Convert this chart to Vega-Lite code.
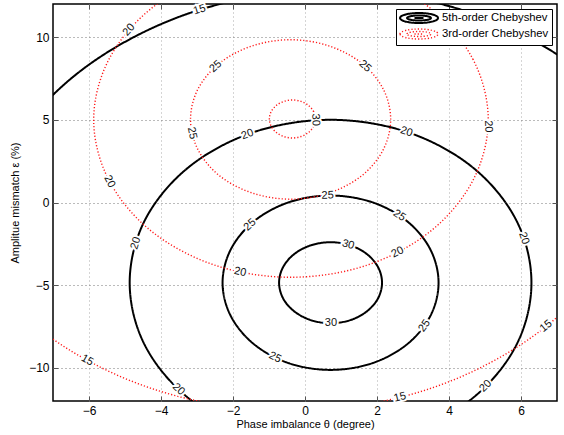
{
  "$schema": "https://vega.github.io/schema/vega-lite/v6.json",
  "width": 504,
  "height": 397,
  "autosize": {"type": "none"},
  "padding": {"left": 53, "top": 4, "right": 7, "bottom": 34},
  "background": "white",
  "config": {
    "view": {"stroke": "#000", "strokeWidth": 1.5},
    "font": "Liberation Sans",
    "axis": {"labelFont": "Liberation Sans", "titleFont": "Liberation Sans", "labelColor": "#000", "titleColor": "#000", "labelFontSize": 12, "titleFontSize": 11, "titleFontWeight": "normal", "domain": false}
  },
  "datasets": {
    "pts": [
      {"s":"5th-order Chebyshev","c":"B30","i":0,"x":2.14,"y":-4.85},
      {"s":"5th-order Chebyshev","c":"B30","i":1,"x":2.03,"y":-3.91},
      {"s":"5th-order Chebyshev","c":"B30","i":2,"x":1.72,"y":-3.12},
      {"s":"5th-order Chebyshev","c":"B30","i":3,"x":1.26,"y":-2.59},
      {"s":"5th-order Chebyshev","c":"B30","i":4,"x":0.71,"y":-2.40},
      {"s":"5th-order Chebyshev","c":"B30","i":5,"x":0.16,"y":-2.59},
      {"s":"5th-order Chebyshev","c":"B30","i":6,"x":-0.30,"y":-3.12},
      {"s":"5th-order Chebyshev","c":"B30","i":7,"x":-0.61,"y":-3.91},
      {"s":"5th-order Chebyshev","c":"B30","i":8,"x":-0.72,"y":-4.85},
      {"s":"5th-order Chebyshev","c":"B30","i":9,"x":-0.61,"y":-5.79},
      {"s":"5th-order Chebyshev","c":"B30","i":10,"x":-0.30,"y":-6.58},
      {"s":"5th-order Chebyshev","c":"B30","i":11,"x":0.16,"y":-7.11},
      {"s":"5th-order Chebyshev","c":"B30","i":12,"x":0.71,"y":-7.30},
      {"s":"5th-order Chebyshev","c":"B30","i":13,"x":1.26,"y":-7.11},
      {"s":"5th-order Chebyshev","c":"B30","i":14,"x":1.72,"y":-6.58},
      {"s":"5th-order Chebyshev","c":"B30","i":15,"x":2.03,"y":-5.79},
      {"s":"5th-order Chebyshev","c":"B25","i":0,"x":3.71,"y":-4.85},
      {"s":"5th-order Chebyshev","c":"B25","i":1,"x":3.48,"y":-2.83},
      {"s":"5th-order Chebyshev","c":"B25","i":2,"x":2.83,"y":-1.12},
      {"s":"5th-order Chebyshev","c":"B25","i":3,"x":1.86,"y":0.02},
      {"s":"5th-order Chebyshev","c":"B25","i":4,"x":0.71,"y":0.42},
      {"s":"5th-order Chebyshev","c":"B25","i":5,"x":-0.44,"y":0.02},
      {"s":"5th-order Chebyshev","c":"B25","i":6,"x":-1.41,"y":-1.12},
      {"s":"5th-order Chebyshev","c":"B25","i":7,"x":-2.06,"y":-2.83},
      {"s":"5th-order Chebyshev","c":"B25","i":8,"x":-2.29,"y":-4.85},
      {"s":"5th-order Chebyshev","c":"B25","i":9,"x":-2.06,"y":-6.87},
      {"s":"5th-order Chebyshev","c":"B25","i":10,"x":-1.41,"y":-8.58},
      {"s":"5th-order Chebyshev","c":"B25","i":11,"x":-0.44,"y":-9.72},
      {"s":"5th-order Chebyshev","c":"B25","i":12,"x":0.71,"y":-10.12},
      {"s":"5th-order Chebyshev","c":"B25","i":13,"x":1.86,"y":-9.72},
      {"s":"5th-order Chebyshev","c":"B25","i":14,"x":2.83,"y":-8.58},
      {"s":"5th-order Chebyshev","c":"B25","i":15,"x":3.48,"y":-6.87},
      {"s":"5th-order Chebyshev","c":"B20","i":0,"x":6.29,"y":-4.85},
      {"s":"5th-order Chebyshev","c":"B20","i":1,"x":5.87,"y":-1.08},
      {"s":"5th-order Chebyshev","c":"B20","i":2,"x":4.66,"y":2.12},
      {"s":"5th-order Chebyshev","c":"B20","i":3,"x":2.85,"y":4.25},
      {"s":"5th-order Chebyshev","c":"B20","i":4,"x":0.71,"y":5.00},
      {"s":"5th-order Chebyshev","c":"B20","i":5,"x":-1.43,"y":4.25},
      {"s":"5th-order Chebyshev","c":"B20","i":6,"x":-3.24,"y":2.12},
      {"s":"5th-order Chebyshev","c":"B20","i":7,"x":-4.45,"y":-1.08},
      {"s":"5th-order Chebyshev","c":"B20","i":8,"x":-4.87,"y":-4.85},
      {"s":"5th-order Chebyshev","c":"B20","i":9,"x":-4.45,"y":-8.62},
      {"s":"5th-order Chebyshev","c":"B20","i":10,"x":-3.24,"y":-11.82},
      {"s":"5th-order Chebyshev","c":"B20","i":11,"x":-1.43,"y":-13.95},
      {"s":"5th-order Chebyshev","c":"B20","i":12,"x":0.71,"y":-14.70},
      {"s":"5th-order Chebyshev","c":"B20","i":13,"x":2.85,"y":-13.95},
      {"s":"5th-order Chebyshev","c":"B20","i":14,"x":4.66,"y":-11.82},
      {"s":"5th-order Chebyshev","c":"B20","i":15,"x":5.87,"y":-8.62},
      {"s":"5th-order Chebyshev","c":"B15","i":0,"x":10.76,"y":-4.85},
      {"s":"5th-order Chebyshev","c":"B15","i":1,"x":10.00,"y":1.92},
      {"s":"5th-order Chebyshev","c":"B15","i":2,"x":7.82,"y":7.67},
      {"s":"5th-order Chebyshev","c":"B15","i":3,"x":4.56,"y":11.50},
      {"s":"5th-order Chebyshev","c":"B15","i":4,"x":0.71,"y":12.85},
      {"s":"5th-order Chebyshev","c":"B15","i":5,"x":-3.14,"y":11.50},
      {"s":"5th-order Chebyshev","c":"B15","i":6,"x":-6.40,"y":7.67},
      {"s":"5th-order Chebyshev","c":"B15","i":7,"x":-8.58,"y":1.92},
      {"s":"5th-order Chebyshev","c":"B15","i":8,"x":-9.34,"y":-4.85},
      {"s":"5th-order Chebyshev","c":"B15","i":9,"x":-8.58,"y":-11.62},
      {"s":"5th-order Chebyshev","c":"B15","i":10,"x":-6.40,"y":-17.37},
      {"s":"5th-order Chebyshev","c":"B15","i":11,"x":-3.14,"y":-21.20},
      {"s":"5th-order Chebyshev","c":"B15","i":12,"x":0.71,"y":-22.55},
      {"s":"5th-order Chebyshev","c":"B15","i":13,"x":4.56,"y":-21.20},
      {"s":"5th-order Chebyshev","c":"B15","i":14,"x":7.82,"y":-17.37},
      {"s":"5th-order Chebyshev","c":"B15","i":15,"x":10.00,"y":-11.62},
      {"s":"3rd-order Chebyshev","c":"R30","i":0,"x":0.29,"y":5.05},
      {"s":"3rd-order Chebyshev","c":"R30","i":1,"x":0.24,"y":5.49},
      {"s":"3rd-order Chebyshev","c":"R30","i":2,"x":0.10,"y":5.86},
      {"s":"3rd-order Chebyshev","c":"R30","i":3,"x":-0.11,"y":6.11},
      {"s":"3rd-order Chebyshev","c":"R30","i":4,"x":-0.35,"y":6.20},
      {"s":"3rd-order Chebyshev","c":"R30","i":5,"x":-0.59,"y":6.11},
      {"s":"3rd-order Chebyshev","c":"R30","i":6,"x":-0.80,"y":5.86},
      {"s":"3rd-order Chebyshev","c":"R30","i":7,"x":-0.94,"y":5.49},
      {"s":"3rd-order Chebyshev","c":"R30","i":8,"x":-0.99,"y":5.05},
      {"s":"3rd-order Chebyshev","c":"R30","i":9,"x":-0.94,"y":4.61},
      {"s":"3rd-order Chebyshev","c":"R30","i":10,"x":-0.80,"y":4.24},
      {"s":"3rd-order Chebyshev","c":"R30","i":11,"x":-0.59,"y":3.99},
      {"s":"3rd-order Chebyshev","c":"R30","i":12,"x":-0.35,"y":3.90},
      {"s":"3rd-order Chebyshev","c":"R30","i":13,"x":-0.11,"y":3.99},
      {"s":"3rd-order Chebyshev","c":"R30","i":14,"x":0.10,"y":4.24},
      {"s":"3rd-order Chebyshev","c":"R30","i":15,"x":0.24,"y":4.61},
      {"s":"3rd-order Chebyshev","c":"R25","i":0,"x":2.38,"y":5.02},
      {"s":"3rd-order Chebyshev","c":"R25","i":1,"x":2.17,"y":6.87},
      {"s":"3rd-order Chebyshev","c":"R25","i":2,"x":1.57,"y":8.43},
      {"s":"3rd-order Chebyshev","c":"R25","i":3,"x":0.66,"y":9.47},
      {"s":"3rd-order Chebyshev","c":"R25","i":4,"x":-0.40,"y":9.84},
      {"s":"3rd-order Chebyshev","c":"R25","i":5,"x":-1.46,"y":9.47},
      {"s":"3rd-order Chebyshev","c":"R25","i":6,"x":-2.37,"y":8.43},
      {"s":"3rd-order Chebyshev","c":"R25","i":7,"x":-2.97,"y":6.87},
      {"s":"3rd-order Chebyshev","c":"R25","i":8,"x":-3.18,"y":5.02},
      {"s":"3rd-order Chebyshev","c":"R25","i":9,"x":-2.97,"y":3.18},
      {"s":"3rd-order Chebyshev","c":"R25","i":10,"x":-2.37,"y":1.61},
      {"s":"3rd-order Chebyshev","c":"R25","i":11,"x":-1.46,"y":0.57},
      {"s":"3rd-order Chebyshev","c":"R25","i":12,"x":-0.40,"y":0.20},
      {"s":"3rd-order Chebyshev","c":"R25","i":13,"x":0.66,"y":0.57},
      {"s":"3rd-order Chebyshev","c":"R25","i":14,"x":1.57,"y":1.61},
      {"s":"3rd-order Chebyshev","c":"R25","i":15,"x":2.17,"y":3.18},
      {"s":"3rd-order Chebyshev","c":"R20","i":0,"x":5.09,"y":5.00},
      {"s":"3rd-order Chebyshev","c":"R20","i":1,"x":4.67,"y":8.64},
      {"s":"3rd-order Chebyshev","c":"R20","i":2,"x":3.49,"y":11.73},
      {"s":"3rd-order Chebyshev","c":"R20","i":3,"x":1.71,"y":13.80},
      {"s":"3rd-order Chebyshev","c":"R20","i":4,"x":-0.39,"y":14.52},
      {"s":"3rd-order Chebyshev","c":"R20","i":5,"x":-2.49,"y":13.80},
      {"s":"3rd-order Chebyshev","c":"R20","i":6,"x":-4.27,"y":11.73},
      {"s":"3rd-order Chebyshev","c":"R20","i":7,"x":-5.45,"y":8.64},
      {"s":"3rd-order Chebyshev","c":"R20","i":8,"x":-5.87,"y":5.00},
      {"s":"3rd-order Chebyshev","c":"R20","i":9,"x":-5.45,"y":1.36},
      {"s":"3rd-order Chebyshev","c":"R20","i":10,"x":-4.27,"y":-1.73},
      {"s":"3rd-order Chebyshev","c":"R20","i":11,"x":-2.49,"y":-3.80},
      {"s":"3rd-order Chebyshev","c":"R20","i":12,"x":-0.39,"y":-4.52},
      {"s":"3rd-order Chebyshev","c":"R20","i":13,"x":1.71,"y":-3.80},
      {"s":"3rd-order Chebyshev","c":"R20","i":14,"x":3.49,"y":-1.73},
      {"s":"3rd-order Chebyshev","c":"R20","i":15,"x":4.67,"y":1.36},
      {"s":"3rd-order Chebyshev","c":"R15","i":0,"x":9.66,"y":5.00},
      {"s":"3rd-order Chebyshev","c":"R15","i":1,"x":8.90,"y":11.74},
      {"s":"3rd-order Chebyshev","c":"R15","i":2,"x":6.72,"y":17.45},
      {"s":"3rd-order Chebyshev","c":"R15","i":3,"x":3.46,"y":21.26},
      {"s":"3rd-order Chebyshev","c":"R15","i":4,"x":-0.39,"y":22.60},
      {"s":"3rd-order Chebyshev","c":"R15","i":5,"x":-4.24,"y":21.26},
      {"s":"3rd-order Chebyshev","c":"R15","i":6,"x":-7.50,"y":17.45},
      {"s":"3rd-order Chebyshev","c":"R15","i":7,"x":-9.68,"y":11.74},
      {"s":"3rd-order Chebyshev","c":"R15","i":8,"x":-10.44,"y":5.00},
      {"s":"3rd-order Chebyshev","c":"R15","i":9,"x":-9.68,"y":-1.74},
      {"s":"3rd-order Chebyshev","c":"R15","i":10,"x":-7.50,"y":-7.45},
      {"s":"3rd-order Chebyshev","c":"R15","i":11,"x":-4.24,"y":-11.26},
      {"s":"3rd-order Chebyshev","c":"R15","i":12,"x":-0.39,"y":-12.60},
      {"s":"3rd-order Chebyshev","c":"R15","i":13,"x":3.46,"y":-11.26},
      {"s":"3rd-order Chebyshev","c":"R15","i":14,"x":6.72,"y":-7.45},
      {"s":"3rd-order Chebyshev","c":"R15","i":15,"x":8.90,"y":-1.74}
    ],
    "labels": [
      {"t":"15","x":-2.93,"y":11.65,"a":-17},
      {"t":"20","x":-1.6,"y":4.11,"a":-20},
      {"t":"20","x":2.82,"y":4.27,"a":18},
      {"t":"25","x":0.63,"y":0.42,"a":-1},
      {"t":"25","x":-1.53,"y":-1.35,"a":-42},
      {"t":"25","x":2.62,"y":-0.79,"a":34},
      {"t":"20","x":-4.70,"y":-2.46,"a":-73},
      {"t":"20","x":6.08,"y":-2.16,"a":71},
      {"t":"30","x":1.2,"y":-2.55,"a":16},
      {"t":"30","x":0.72,"y":-7.30,"a":0},
      {"t":"25","x":3.32,"y":-7.45,"a":-55},
      {"t":"25","x":-0.83,"y":-9.37,"a":26},
      {"t":"20","x":-3.51,"y":-11.30,"a":43},
      {"t":"20","x":5.02,"y":-11.10,"a":-45},
      {"t":"20","x":-4.89,"y":10.44,"a":-49},
      {"t":"25","x":-2.48,"y":8.22,"a":-42},
      {"t":"25","x":1.67,"y":8.23,"a":42},
      {"t":"30","x":0.29,"y":5.0,"a":88},
      {"t":"25","x":-3.14,"y":4.19,"a":78},
      {"t":"20","x":5.09,"y":4.6,"a":88},
      {"t":"20","x":-5.43,"y":1.27,"a":62},
      {"t":"20","x":-1.8,"y":-4.2,"a":12},
      {"t":"20","x":2.57,"y":-3.01,"a":-27},
      {"t":"15","x":-6.05,"y":-9.54,"a":29},
      {"t":"15","x":2.64,"y":-11.78,"a":-14},
      {"t":"15","x":6.7,"y":-7.48,"a":-39}
    ]
  },
  "layer": [
    {
      "data": {"name": "pts"},
      "mark": {"type": "line", "interpolate": "cardinal-closed", "clip": true},
      "encoding": {
        "x": {"field": "x", "type": "quantitative", "scale": {"domain": [-7, 7], "nice": false, "zero": false},
              "axis": {"orient": "bottom", "values": [-6, -4, -2, 0, 2, 4, 6], "grid": true, "gridColor": "#aaa", "gridDash": [1, 3], "gridWidth": 1, "tickSize": -5, "tickColor": "#555", "labelPadding": 9, "title": "Phase imbalance θ (degree)", "titlePadding": 2}},
        "y": {"field": "y", "type": "quantitative", "scale": {"domain": [-12, 12], "nice": false, "zero": false},
              "axis": {"orient": "left", "values": [-10, -5, 0, 5, 10], "grid": true, "gridColor": "#777", "gridDash": [1, 3], "gridWidth": 1, "tickSize": -5, "tickColor": "#555", "labelPadding": 9, "title": "Amplitue mismatch ε (%)", "titlePadding": 8}},
        "detail": {"field": "c"},
        "order": {"field": "i", "type": "quantitative"},
        "color": {"field": "s", "type": "nominal", "scale": {"domain": ["5th-order Chebyshev", "3rd-order Chebyshev"], "range": ["#000000", "#ff1a1a"]},
                  "legend": {"title": null, "orient": "top-right", "offset": 5, "strokeColor": "#000", "fillColor": "#fff", "padding": 3, "rowPadding": -3, "labelFontSize": 11.3, "labelColor": "#000", "labelFont": "Liberation Sans", "symbolType": "M-1,0A3.8,1,0,1,1,6.6,0A3.8,1,0,1,1,-1,0ZM0.4,0A2.4,0.5,0,1,1,5.2,0A2.4,0.5,0,1,1,0.4,0ZM1.9,0L3.7,0", "symbolSize": 100, "symbolStrokeWidth": 2, "symbolFillColor": "transparent", "labelOffset": 31}},
        "strokeDash": {"field": "s", "type": "nominal", "scale": {"domain": ["5th-order Chebyshev", "3rd-order Chebyshev"], "range": [[1, 0], [1.2, 2]]}, "legend": {"title": null}},
        "strokeWidth": {"field": "s", "type": "ordinal", "scale": {"domain": ["5th-order Chebyshev", "3rd-order Chebyshev"], "range": [2, 1.4]}, "legend": null}
      }
    },
    {
      "data": {"name": "labels"},
      "mark": {"type": "text", "fill": "#fff", "stroke": "#fff", "strokeWidth": 4, "fontSize": 11, "font": "Liberation Sans", "baseline": "middle", "align": "center"},
      "encoding": {
        "x": {"field": "x", "type": "quantitative", "axis": {"orient": "top", "labels": false, "grid": false, "tickSize": -5, "tickColor": "#555", "title": null, "values": [-6, -4, -2, 0, 2, 4, 6]}},
        "y": {"field": "y", "type": "quantitative", "axis": {"orient": "right", "labels": false, "grid": false, "tickSize": -5, "tickColor": "#555", "title": null, "values": [-10, -5, 0, 5, 10]}},
        "text": {"field": "t"},
        "angle": {"field": "a", "type": "quantitative", "scale": null}
      }
    },
    {
      "data": {"name": "labels"},
      "mark": {"type": "text", "fill": "#111", "fontSize": 11, "font": "Liberation Sans", "baseline": "middle", "align": "center"},
      "encoding": {
        "x": {"field": "x", "type": "quantitative", "axis": null},
        "y": {"field": "y", "type": "quantitative", "axis": null},
        "text": {"field": "t"},
        "angle": {"field": "a", "type": "quantitative", "scale": null}
      }
    }
  ],
  "resolve": {"axis": {"x": "independent", "y": "independent"}}
}
